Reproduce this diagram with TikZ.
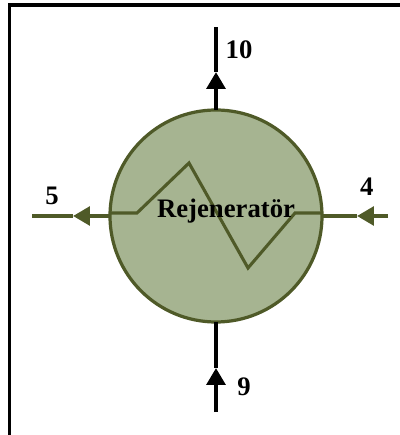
\documentclass[tikz,border=0pt]{standalone}
\usepackage{fontspec}
\setmainfont{Liberation Serif}
\usetikzlibrary{arrows.meta}
\definecolor{Shell}{HTML}{A6B491}
\definecolor{Olive}{HTML}{4F5A28}
\tikzset{regen/.style={circle,draw=Olive,line width=2.3pt,fill=Shell,minimum size=5.3cm,inner sep=0pt,outer sep=0pt},streamlabel/.style={text=black,font=\bfseries\fontsize{19}{21}\selectfont,inner sep=0pt},gasin/.style={draw=black,line width=3.2pt,-{Triangle[length=0.42cm,width=0.46cm]}},gasout/.style={draw=black,line width=2.5pt},airin/.style={draw=Olive,line width=2.8pt,-{Triangle[length=0.42cm,width=0.46cm]}},airout/.style={draw=Olive,line width=2.8pt},coil/.style={draw=Olive,line width=2.2pt,line join=miter}}
\begin{document}
\begin{tikzpicture}
\useasboundingbox (0,0) rectangle (10,10.875);
\draw[black,line width=2.4pt] (0.24,0) -- (0.24,10.75) -- (10,10.75);
\node[regen] (R) at (5.4,5.475) {};
\coordinate (C1) at (2.75,5.55);
\coordinate (C2) at (3.425,5.55);
\coordinate (C3) at (4.725,6.8);
\coordinate (C4) at (6.2,4.175);
\coordinate (C5) at (7.375,5.55);
\coordinate (C6) at (8.05,5.55);
\draw[coil] (C1) -- (C2) -- (C3) -- (C4) -- (C5) -- (C6);
\node[streamlabel,anchor=base] (name) at (5.65,5.43) {Rejeneratör};
% streams
\coordinate (T10) at (5.4,9.075);
\coordinate (E10) at (5.4,10.2);
\draw[gasin] (R.north) -- (T10);
\draw[gasout] (T10) -- (E10);
\coordinate (T9) at (5.4,1.675);
\coordinate (E9) at (5.4,0.575);
\draw[gasin] (E9) -- (T9);
\draw[gasout] (T9) -- (R.south);
\coordinate (T5) at (1.825,5.475);
\coordinate (E5) at (0.8,5.475);
\draw[airin] (R.west) -- (T5);
\draw[airout] (T5) -- (E5);
\coordinate (T4) at (8.925,5.475);
\coordinate (E4) at (9.7,5.475);
\draw[airin] (E4) -- (T4);
\draw[airout] (T4) -- (R.east);
\node[streamlabel] (L10) at (5.975,9.625) {10};
\node[streamlabel] (L9) at (6.1,1.2) {9};
\node[streamlabel] (L5) at (1.3,5.98) {5};
\node[streamlabel] (L4) at (9.17,6.2) {4};
\end{tikzpicture}
\end{document}
